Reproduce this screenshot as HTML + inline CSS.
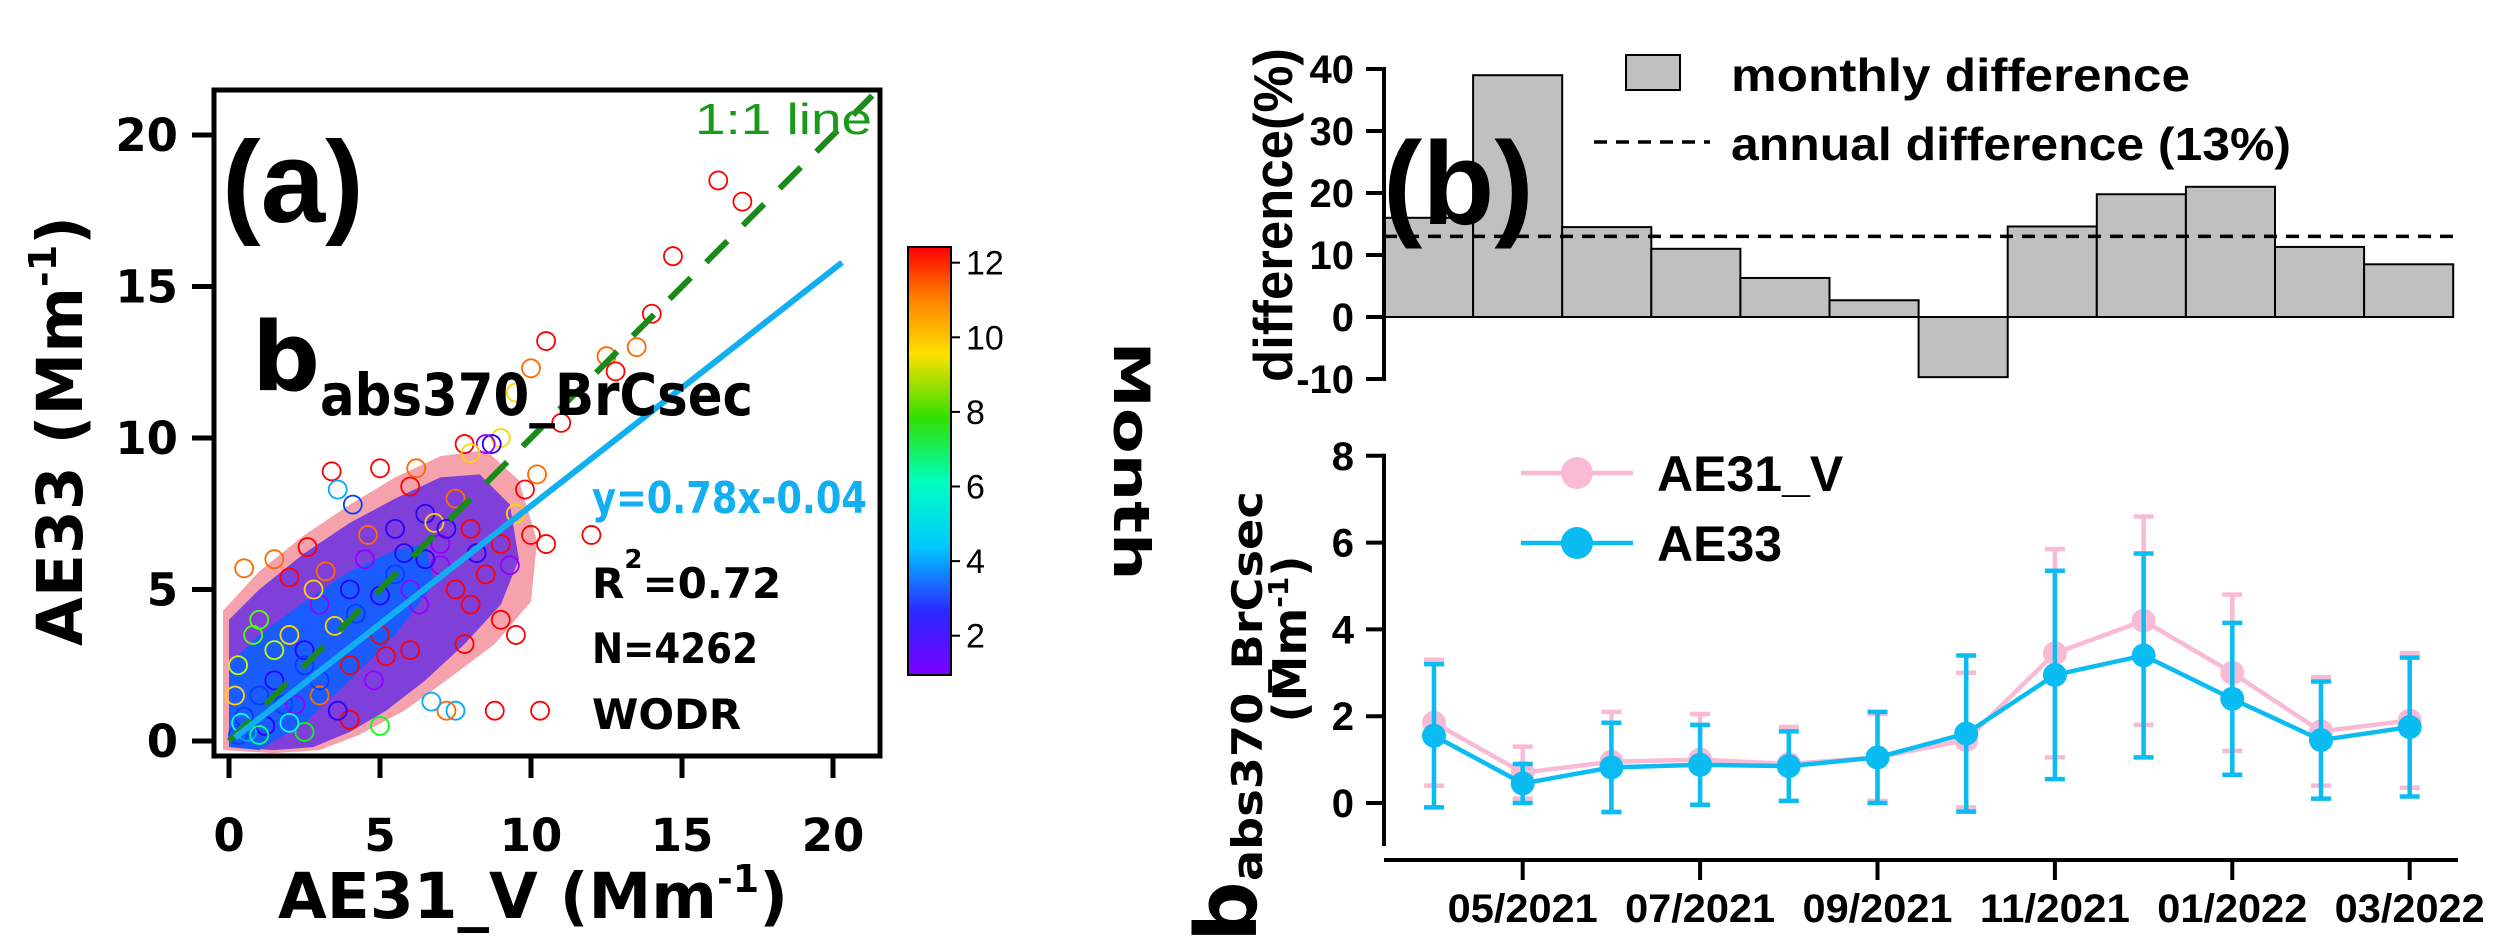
<!DOCTYPE html>
<html><head><meta charset="utf-8"><style>
html,body{margin:0;padding:0;background:#fff;overflow:hidden;width:2495px;height:952px;}
svg{display:block;}
.a{font-family:"DejaVu Sans","Liberation Sans",sans-serif;font-weight:bold;}
.n{font-family:"Liberation Sans Narrow","Liberation Sans",sans-serif;font-weight:bold;}
</style></head><body>
<svg id="s" style="position:absolute;left:0;top:0" width="2495" height="952" viewBox="0 0 2495 952" xmlns="http://www.w3.org/2000/svg">
<defs>
<linearGradient id="cb" x1="0" y1="1" x2="0" y2="0">
<stop offset="0" stop-color="#7a00ff"/><stop offset="0.15" stop-color="#2a2aff"/><stop offset="0.3" stop-color="#00c8ff"/><stop offset="0.45" stop-color="#00ffc0"/><stop offset="0.6" stop-color="#30e000"/><stop offset="0.75" stop-color="#ffe000"/><stop offset="0.88" stop-color="#ff8000"/><stop offset="1" stop-color="#ff0000"/>
</linearGradient>
</defs>
<g id="pa"></g>
<g id="pb"></g>
</svg>
<script>
// ---------- Panel A data ----------
const scatX=[16.2,17,14.7,14,13.5,12.5,12.8,10.5,10,9.5,11,12,10.5,10,9.8,9.5,10.2,9,8.7,8.5,7.8,8,6.2,5,6,3.4,3.6,4.1,1.5,2.6,2,0.5,1,9.5,10.3,8.8,7.5,7.2,6.7,4,5,2.5,8,9,8.5,9.3,7.5,7,6.5,5.5,4.5,4,3,2.5,1.5,1,0.5,0.3,5,6,4,3,6,5,7,8,7.5,6.8,3.5,2,1.5,0.8,0.3,0.2,2.8,3.2,4.6,5.8,6.3,7.8,4.8,3.6,2.2,1.2,5.5,4.2,2.5,1.8,0.6,3,6.5,7.2,8.2,9,5.2,2,1,0.4];
const scatY=[18.5,17.8,16,14.1,13,12.7,12.2,13.2,12.3,11.5,10.5,6.8,6.5,6.8,8.3,7.5,8.8,10,9.8,9.8,9.8,9.5,9,9,8.4,8.9,8.3,7.8,6,6.4,5.4,5.7,4,3.5,1.0,1.0,1.0,1.0,1.3,0.7,0.5,0.3,4.5,4,5.5,5.8,5,6.5,7.5,7,6,5,4.5,3,2,1.5,0.8,0.2,3.5,3,2.5,1.5,5,4.8,5.8,7,8,7.2,3.8,3.5,3,3.5,2.5,1.5,5,5.6,6.8,6.2,4.5,3.2,2,1,1.2,0.5,5.5,4.2,2.5,1.2,0.3,2,6,7,6.2,6.5,2.8,0.6,0.2,0.6];
const scatM=[12,12,12,12,11,11,12,12,11,10,12,12,12,12,12,10,11,10,2,1,12,10,11,12,12,12,4,3,11,12,12,11,8,12,12,12,4,11,4,12,7,7,12,12,12,1,12,1,2,2,1,2,1,2,2,3,3,3,12,12,12,11,1,2,1,12,11,10,10,10,9,8,9,10,10,11,11,2,1,12,1,2,1,2,3,3,3,3,4,3,2,2,2,12,12,5,6,5];
const haloX=[-0.2,-0.2,1,2.5,4,5.5,7,8.5,9.6,10.2,10,8.8,7.2,5.8,4.3,3,1.5];
const haloY=[-0.3,4.3,5.6,6.8,7.8,8.7,9.4,9.6,8.6,6.6,4.6,3.2,2,1,0.2,-0.3,-0.4];
const cloudX=[0,0,1,2.5,4,5.5,7,8.3,9.3,9.6,9,7.8,6.5,5.2,4,2.8,1.5];
const cloudY=[-0.2,4,5,6.2,7.2,8,8.7,8.8,7.8,6,4.5,3.2,2,1,0.3,-0.2,-0.3];
const coreX=[0,0,1,2.5,4,5.5,6.5,6.8,5.5,4,2.5,1];
const coreY=[-0.2,2.5,3.5,4.6,5.6,6.3,6.5,5.2,3.5,2,0.6,-0.3];
const fitSlope=0.78, fitInt=-0.04;
const xTicksA=[0,5,10,15,20], yTicksA=[0,5,10,15,20], cbTicks=[2,4,6,8,10,12];
// ---------- Panel B data ----------
const diffVals=[16,39,14.5,11,6.3,2.7,-9.7,14.6,19.8,21,11.3,8.5];
const annualDiff=13;
const diffTicks=[-10,0,10,20,30,40];
const ae31=[1.85,0.7,0.95,1.0,0.9,1.05,1.45,3.45,4.2,3.0,1.65,1.9];
const ae31sd=[1.45,0.6,1.15,1.05,0.85,1.0,1.55,2.4,2.4,1.8,1.25,1.55];
const ae33=[1.55,0.45,0.82,0.88,0.85,1.05,1.6,2.95,3.4,2.4,1.45,1.75];
const ae33sd=[1.65,0.45,1.03,0.92,0.8,1.05,1.8,2.4,2.35,1.75,1.35,1.6];
const concTicks=[0,2,4,6,8];
const monthLabels=["05/2021","07/2021","09/2021","11/2021","01/2022","03/2022"];
const monthLabelIdx=[1,3,5,7,9,11];

const NS="http://www.w3.org/2000/svg";
function mk(parent,tag,attrs,text){const e=document.createElementNS(NS,tag);for(const k in attrs)e.setAttribute(k,attrs[k]);if(text!==undefined)e.textContent=text;parent.appendChild(e);return e;}
const pa=document.getElementById('pa'), pb=document.getElementById('pb');

// Panel A axes
const ax=v=>229+v*30.2, ay=v=>741-v*30.3;
let e;
const cl=mk(pa,'g',{});
function poly(xs,ys){return xs.map((v,i)=>(i?'L':'M')+ax(v)+','+ay(ys[i])).join('')+'Z';}
e=mk(cl,'path',{d:poly(haloX,haloY),fill:'#e8304a','fill-opacity':0.45});

e=mk(cl,'path',{d:poly(cloudX,cloudY),fill:'#6a2ee0','fill-opacity':0.85});

e=mk(cl,'path',{d:poly(coreX,coreY),fill:'#1a5cff','fill-opacity':1});

function mcol(m){const t=(m-1)/11;const h=275-275*t;return 'hsl('+h+',100%,50%)';}
scatX.forEach((x,i)=>{const c=mk(pa,'circle',{cx:ax(x),cy:ay(scatY[i]),r:9,fill:'none',stroke:mcol(scatM[i]),'stroke-width':1.8});

});
e=mk(pa,'line',{x1:ax(0),y1:ay(0),x2:ax(21.3),y2:ay(21.3),stroke:'#1a8a1a','stroke-width':6,'stroke-dasharray':'30 22'});

e=mk(pa,'line',{x1:ax(0.2),y1:ay(fitSlope*0.2+fitInt),x2:ax(20.3),y2:ay(fitSlope*20.3+fitInt),stroke:'#12aef2','stroke-width':6});

e=mk(pa,'rect',{x:214,y:90,width:666,height:666,fill:'none',stroke:'#000','stroke-width':5});

xTicksA.forEach(v=>{mk(pa,'line',{x1:ax(v),y1:756,x2:ax(v),y2:778,stroke:'#000','stroke-width':5});
e=mk(pa,'text',{x:ax(v),y:851,'text-anchor':'middle','font-size':45,class:'a'},v);
});
yTicksA.forEach(v=>{mk(pa,'line',{x1:192,y1:ay(v),x2:214,y2:ay(v),stroke:'#000','stroke-width':5});
e=mk(pa,'text',{x:178,y:ay(v)+16,'text-anchor':'end','font-size':45,class:'a'},v);
});
// colorbar
const cy=m=>673-(m-1)*37.3;
e=mk(pa,'rect',{x:908,y:247,width:43,height:428,fill:'url(#cb)',stroke:'#000','stroke-width':2});

cbTicks.forEach(v=>{mk(pa,'line',{x1:951,y1:cy(v),x2:960,y2:cy(v),stroke:'#000','stroke-width':2});
e=mk(pa,'text',{x:966,y:cy(v)+12,'font-size':34,'font-family':'Liberation Sans, sans-serif'},v);
});

// Panel B top
const bx0=1384, bw=89.1;
const dy=v=>317-v*6.2;
diffVals.forEach((v,i)=>{const r=mk(pb,'rect',{x:bx0+i*bw,y:Math.min(dy(v),dy(0)),width:bw,height:Math.abs(dy(v)-dy(0)),fill:'#c0c0c0',stroke:'#000','stroke-width':2});

});
e=mk(pb,'line',{x1:1384,y1:dy(annualDiff),x2:2455,y2:dy(annualDiff),stroke:'#000','stroke-width':3.5,'stroke-dasharray':'13 9'});

mk(pb,'line',{x1:1384,y1:dy(40)-2,x2:1384,y2:dy(-10)+2,stroke:'#000','stroke-width':4});
diffTicks.forEach(v=>{mk(pb,'line',{x1:1366,y1:dy(v),x2:1384,y2:dy(v),stroke:'#000','stroke-width':4});
e=mk(pb,'text',{x:1354,y:dy(v)+14,'text-anchor':'end','font-size':40,class:'n'},v);
});
// Panel B bottom
const cxp=i=>1434+i*88.7, cyp=v=>803-v*43.4;
mk(pb,'line',{x1:1384,y1:cyp(8)-2,x2:1384,y2:846,stroke:'#000','stroke-width':4});
mk(pb,'line',{x1:1384,y1:860,x2:2458,y2:860,stroke:'#000','stroke-width':4});
concTicks.forEach(v=>{mk(pb,'line',{x1:1366,y1:cyp(v),x2:1384,y2:cyp(v),stroke:'#000','stroke-width':4});
e=mk(pb,'text',{x:1354,y:cyp(v)+14,'text-anchor':'end','font-size':40,class:'n'},v);
});
monthLabelIdx.forEach((idx,k)=>{mk(pb,'line',{x1:cxp(idx),y1:860,x2:cxp(idx),y2:880,stroke:'#000','stroke-width':4});
e=mk(pb,'text',{x:cxp(idx),y:922,'text-anchor':'middle','font-size':40,class:'n',textLength:150,lengthAdjust:'spacingAndGlyphs'},monthLabels[k]);
});
function series(vals,sd,col,name){
  const g=mk(pb,'g',{});
  
  vals.forEach((v,i)=>{const x=cxp(i);
    mk(g,'line',{x1:x,y1:cyp(v-sd[i]),x2:x,y2:cyp(v+sd[i]),stroke:col,'stroke-width':4.5});
    mk(g,'line',{x1:x-10,y1:cyp(v-sd[i]),x2:x+10,y2:cyp(v-sd[i]),stroke:col,'stroke-width':4.5});
    mk(g,'line',{x1:x-10,y1:cyp(v+sd[i]),x2:x+10,y2:cyp(v+sd[i]),stroke:col,'stroke-width':4.5});});
  mk(g,'polyline',{points:vals.map((v,i)=>cxp(i)+','+cyp(v)).join(' '),fill:'none',stroke:col,'stroke-width':4.5});
  vals.forEach((v,i)=>{const c=mk(g,'circle',{cx:cxp(i),cy:cyp(v),r:12,fill:col});
  
  });
}
series(ae31,ae31sd,'#f9bad6','series-ae31-v');
series(ae33,ae33sd,'#0bbcf2','series-ae33');
</script>
<svg style="position:absolute;left:0;top:0" width="2495" height="952" xmlns="http://www.w3.org/2000/svg">
<text x="222" y="222" font-size="116" font-family="Liberation Sans, sans-serif" font-weight="bold">(a)</text>
<text x="695" y="134" font-size="44" fill="#1a9a1a" font-family="Liberation Sans, sans-serif" textLength="177" lengthAdjust="spacingAndGlyphs">1:1 line</text>
<text x="252" y="390" font-size="95" class="a">b<tspan font-size="58" dy="25" textLength="433" lengthAdjust="spacingAndGlyphs">abs370_BrCsec</tspan></text>
<text x="592" y="513" font-size="44" class="a" fill="#12aef2" textLength="275" lengthAdjust="spacingAndGlyphs">y=0.78x-0.04</text>
<text x="592" y="598" font-size="42" class="a">R<tspan font-size="26" dy="-30">2</tspan><tspan dy="30">=0.72</tspan></text>
<text x="592" y="663" font-size="42" class="a" textLength="166" lengthAdjust="spacingAndGlyphs">N=4262</text>
<text x="592" y="729" font-size="42" class="a">WODR</text>
<text transform="translate(82,431) rotate(-90)" text-anchor="middle" font-size="63" class="a" textLength="430" lengthAdjust="spacingAndGlyphs">AE33  (Mm<tspan font-size="38" dy="-26">-1</tspan><tspan dy="26">)</tspan></text>
<text x="533" y="918" text-anchor="middle" font-size="63" class="a" textLength="510" lengthAdjust="spacingAndGlyphs">AE31_V  (Mm<tspan font-size="38" dy="-26">-1</tspan><tspan dy="26">)</tspan></text>
<text transform="translate(1114,461) rotate(90)" text-anchor="middle" font-size="50" class="a" textLength="239" lengthAdjust="spacingAndGlyphs">Month</text>
<text x="1383" y="224" font-size="118" font-family="Liberation Sans, sans-serif" font-weight="bold">(b)</text>
<rect x="1626" y="55" width="54" height="35" fill="#c0c0c0" stroke="#000" stroke-width="2"/>
<text x="1731" y="91" font-size="46" class="n" textLength="459" lengthAdjust="spacingAndGlyphs">monthly difference</text>
<line x1="1594" y1="142" x2="1710" y2="142" stroke="#000" stroke-width="3.5" stroke-dasharray="13 9"/>
<text x="1731" y="160" font-size="46" class="n" textLength="560" lengthAdjust="spacingAndGlyphs">annual difference (13%)</text>
<text transform="translate(1292,215) rotate(-90)" text-anchor="middle" font-size="55" class="n" textLength="334" lengthAdjust="spacingAndGlyphs">difference(%)</text>
<line x1="1521" y1="473" x2="1633" y2="473" stroke="#f9bad6" stroke-width="4.5"/>
<circle cx="1577" cy="473" r="16" fill="#f9bad6"/>
<text x="1657" y="491" font-size="50" class="n">AE31_V</text>
<line x1="1521" y1="543" x2="1633" y2="543" stroke="#0bbcf2" stroke-width="4.5"/>
<circle cx="1577" cy="543" r="16" fill="#0bbcf2"/>
<text x="1657" y="561" font-size="50" class="n">AE33</text>
<text transform="translate(1256,942) rotate(-90)" font-size="85" class="a">b<tspan font-size="42" dy="6" textLength="390" lengthAdjust="spacingAndGlyphs">abs370_BrCsec</tspan></text>
<text transform="translate(1306,639) rotate(-90)" text-anchor="middle" font-size="46" class="a">(Mm<tspan font-size="28" dy="-18">-1</tspan><tspan dy="18">)</tspan></text>
</svg>
</body></html>
